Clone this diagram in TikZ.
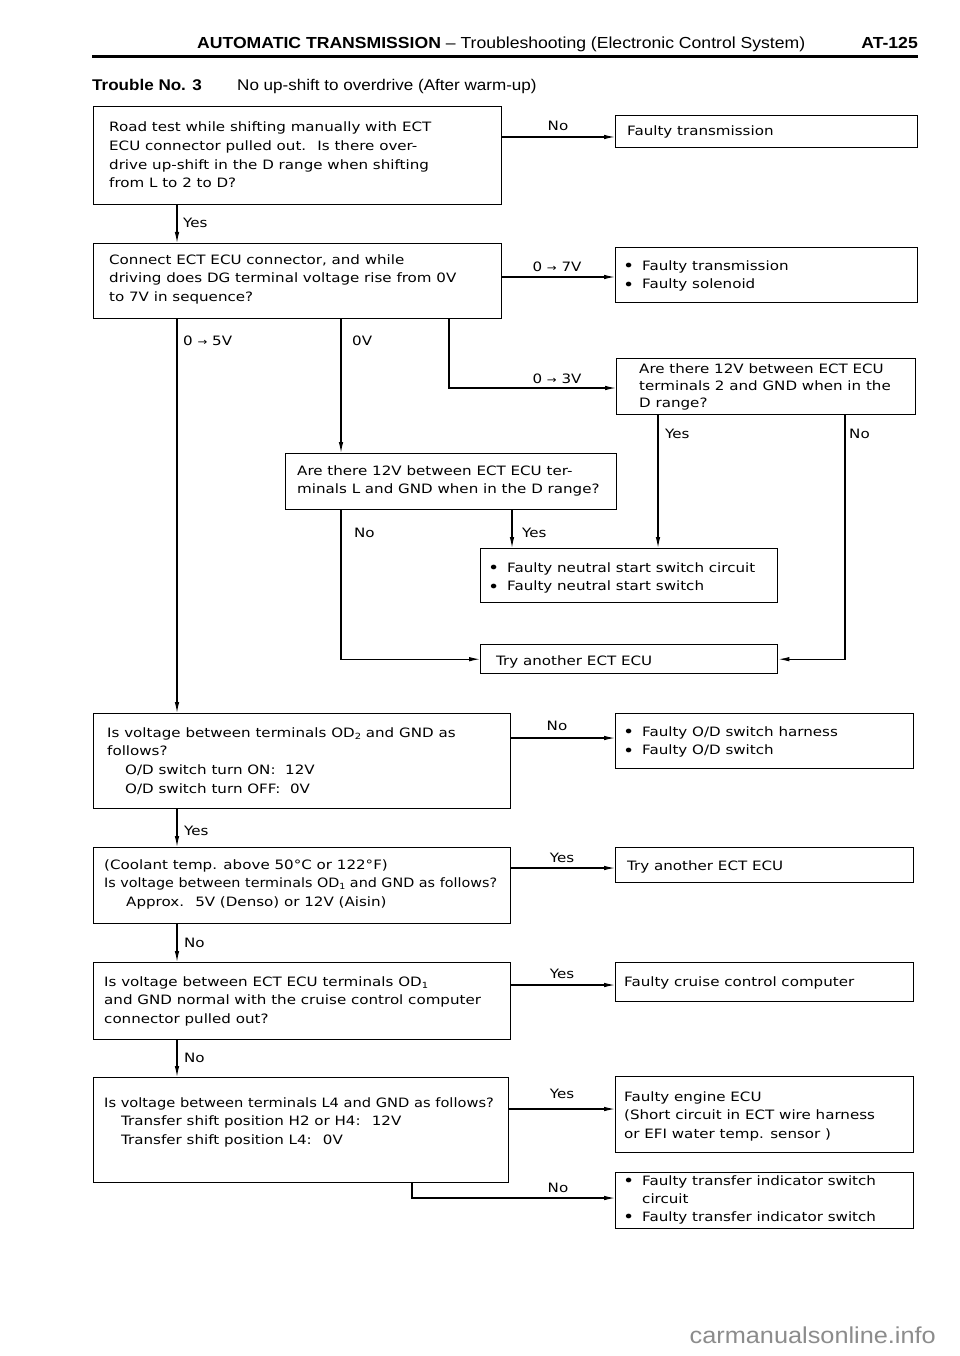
\documentclass[tikz,border=0pt]{standalone}
\usepackage{fontspec}
\usepackage{graphicx}
\setmainfont[FakeStretch=1.17]{DejaVu Sans}
\newfontfamily\hdrfont[FakeStretch=1.1]{Liberation Sans}
\newfontfamily\wmfont[FakeStretch=1.1]{Liberation Sans}
\usetikzlibrary{arrows.meta}
\newcommand{\bodyfont}{\fontsize{12.9}{18.7}\selectfont}
\newcommand{\tightfont}{\fontsize{12.9}{17}\selectfont}
\newcommand{\smallarr}{{\fontsize{10}{10}\selectfont →}}
\newcommand{\mysub}[1]{\raisebox{-0.3ex}{\fontsize{8.5}{8.5}\selectfont #1}}
\newcommand{\bul}{\makebox[19pt][l]{\raisebox{-1.3pt}{\scalebox{1.25}{•}}}}
\begin{document}
\begin{tikzpicture}[x=1pt,y=-1pt,
  box/.style={draw, line width=1.4pt, rectangle, inner sep=0pt, anchor=north west},
  txt/.style={anchor=base west, inner sep=0pt, align=left, font=\bodyfont},
  lbl/.style={anchor=base west, inner sep=0pt, font=\bodyfont},
  clbl/.style={anchor=base, inner sep=0pt, font=\bodyfont},
  conn/.style={line width=1.1pt, -{Latex[length=11pt,width=4.5pt]}},
  plainline/.style={line width=1.1pt}]
\useasboundingbox[fill=white] (0,0) rectangle (960,1356);

% header (multi-line text nodes are anchored at the baseline of their last line)
\node[anchor=base west, inner sep=0pt, font=\hdrfont\fontsize{16}{16}\selectfont] (hdr) at (197,49)
  {\textbf{AUTOMATIC TRANSMISSION} – Troubleshooting (Electronic Control System)};
\node[anchor=base east, inner sep=0pt, font=\hdrfont\fontsize{16}{16}\selectfont] (page) at (918,49) {\textbf{AT-125}};
\coordinate (rl) at (92,57);
\coordinate (rr) at (918,57);
\draw[line width=3pt] (rl) -- (rr);
\node[anchor=base west, inner sep=0pt, font=\hdrfont\fontsize{15.5}{15.5}\selectfont] (tno) at (92,91) {\textbf{Trouble No. 3}};
\node[anchor=base west, inner sep=0pt, font=\hdrfont\fontsize{15.5}{15.5}\selectfont] (tdesc) at (237,91) {No up-shift to overdrive (After warm-up)};

% boxes
\node[box, minimum width=408pt, minimum height=98pt] (b1) at (93,106) {};
\node[txt] (b1t) at (109,188) {Road test while shifting manually with ECT\\ECU connector pulled out.~ Is there over-\\drive up-shift in the D range when shifting\\from L to 2 to D?};
\node[box, minimum width=302pt, minimum height=32pt] (ft1) at (615,115) {};
\node[txt] (ft1t) at (627,136) {Faulty transmission};

\node[box, minimum width=408pt, minimum height=75pt] (b2) at (93,243) {};
\node[txt] (b2t) at (109,301.4) {Connect ECT ECU connector, and while\\driving does DG terminal voltage rise from 0V\\to 7V in sequence?};
\node[box, minimum width=302pt, minimum height=55pt] (fts) at (615,247) {};
\node[txt] (ftst) at (623,288.7) {\bul Faulty transmission\\\bul Faulty solenoid};

\node[box, minimum width=299pt, minimum height=56pt] (q3) at (616,358) {};
\node[txt, font=\tightfont] (q3t) at (639,407) {Are there 12V between ECT ECU\\terminals 2 and GND when in the\\D range?};

\node[box, minimum width=331pt, minimum height=56pt] (qL) at (285,453) {};
\node[txt] (qLt) at (297,493.7) {Are there 12V between ECT ECU ter-\\minals L and GND when in the D range?};

\node[box, minimum width=297pt, minimum height=54pt] (nss) at (480,548) {};
\node[txt] (nsst) at (488,590.7) {\bul Faulty neutral start switch circuit\\\bul Faulty neutral start switch};

\node[box, minimum width=297pt, minimum height=29pt] (try1) at (480,644) {};
\node[txt] (try1t) at (496,665) {Try another ECT ECU};

\node[box, minimum width=417pt, minimum height=95pt] (od2) at (93,713) {};
\node[txt] (od2t) at (107,793.1) {Is voltage between terminals OD\mysub{2} and GND as\\follows?\\\hspace*{18pt}O/D switch turn ON:~ 12V\\\hspace*{18pt}O/D switch turn OFF:~ 0V};
\node[box, minimum width=298pt, minimum height=55pt] (odr) at (615,713) {};
\node[txt] (odrt) at (623,754.7) {\bul Faulty O/D switch harness\\\bul Faulty O/D switch};

\node[box, minimum width=417pt, minimum height=76pt] (cl) at (93,847) {};
\node[txt] (clt) at (104,906.4) {(Coolant temp. above 50°C or 122°F)\\\scalebox{0.95}[1]{Is voltage between terminals OD\mysub{1} and GND as follows?}\\\hspace*{22pt}Approx.~ 5V (Denso) or 12V (Aisin)};
\node[box, minimum width=298pt, minimum height=35pt] (try2) at (615,847) {};
\node[txt] (try2t) at (627,870) {Try another ECT ECU};

\node[box, minimum width=417pt, minimum height=77pt] (cr) at (93,962) {};
\node[txt] (crt) at (104,1023.4) {Is voltage between ECT ECU terminals OD\mysub{1}\\and GND normal with the cruise control computer\\connector pulled out?};
\node[box, minimum width=298pt, minimum height=39pt] (ccc) at (615,962) {};
\node[txt] (ccct) at (624,986) {Faulty cruise control computer};

\node[box, minimum width=415pt, minimum height=105pt] (l4) at (93,1077) {};
\node[txt] (l4t) at (104,1144.4) {\scalebox{0.97}[1]{Is voltage between terminals L4 and GND as follows?}\\\hspace*{17pt}Transfer shift position H2 or H4:~ 12V\\\hspace*{17pt}Transfer shift position L4:~ 0V};
\node[box, minimum width=298pt, minimum height=76pt] (eng) at (615,1076) {};
\node[txt] (engt) at (624,1138.4) {Faulty engine ECU\\(Short circuit in ECT wire harness\\or EFI water temp. sensor )};
\node[box, minimum width=298pt, minimum height=56pt] (trf) at (615,1172) {};
\node[txt, font=\fontsize{12.9}{18}\selectfont] (trft) at (623,1221) {\bul Faulty transfer indicator switch\\\hspace*{19pt}circuit\\\bul Faulty transfer indicator switch};

% connectors
\draw[conn] (b1.east |- 0,137) -- (ft1.west |- 0,137);
\node[clbl] (l1) at (558,131) {No};
\draw[conn] (b1.south -| 177,0) -- (b2.north -| 177,0);
\node[lbl] (l2) at (183,228) {Yes};
\draw[conn] (b2.east |- 0,277) -- (fts.west |- 0,277);
\node[clbl] (l3) at (557,272) {0 \smallarr{} 7V};
\draw[conn] (b2.south -| 177,0) -- (od2.north -| 177,0);
\node[lbl] (l4l) at (183,345) {0 \smallarr{} 5V};
\draw[conn] (b2.south -| 341,0) -- (qL.north -| 341,0);
\node[lbl] (l5) at (352,345) {0V};
\draw[conn] (b2.south -| 449,0) |- (q3.west |- 0,388);
\node[clbl] (l6) at (557,383) {0 \smallarr{} 3V};
\draw[conn] (q3.south -| 658,0) -- (nss.north -| 658,0);
\node[lbl] (l7) at (665,438) {Yes};
\draw[conn] (q3.south -| 845,0) |- (try1.east);
\node[lbl] (l8) at (849,438) {No};
\draw[conn] (qL.south -| 341,0) |- (try1.west);
\node[lbl] (l9) at (354,537) {No};
\draw[conn] (qL.south -| 512,0) -- (nss.north -| 512,0);
\node[lbl] (l10) at (522,537) {Yes};
\draw[conn] (od2.east |- 0,738) -- (odr.west |- 0,738);
\node[clbl] (l11) at (557,730) {No};
\draw[conn] (od2.south -| 177,0) -- (cl.north -| 177,0);
\node[lbl] (l12) at (184,835) {Yes};
\draw[conn] (cl.east |- 0,868) -- (try2.west |- 0,868);
\node[clbl] (l13) at (562,862) {Yes};
\draw[conn] (cl.south -| 177,0) -- (cr.north -| 177,0);
\node[lbl] (l14) at (184,947) {No};
\draw[conn] (cr.east |- 0,985) -- (ccc.west |- 0,985);
\node[clbl] (l15) at (562,978) {Yes};
\draw[conn] (cr.south -| 177,0) -- (l4.north -| 177,0);
\node[lbl] (l16) at (184,1062) {No};
\draw[conn] (l4.east |- 0,1109) -- (eng.west |- 0,1109);
\node[clbl] (l17) at (562,1098) {Yes};
\draw[conn] (l4.south -| 412,0) |- (trf.west |- 0,1198);
\node[clbl] (l18) at (558,1192) {No};

% watermark
\node[anchor=base east, inner sep=0pt, text=black!45, font=\wmfont\fontsize{23}{23}\selectfont] (wm) at (936,1343) {carmanualsonline.info};
\end{tikzpicture}
\end{document}
